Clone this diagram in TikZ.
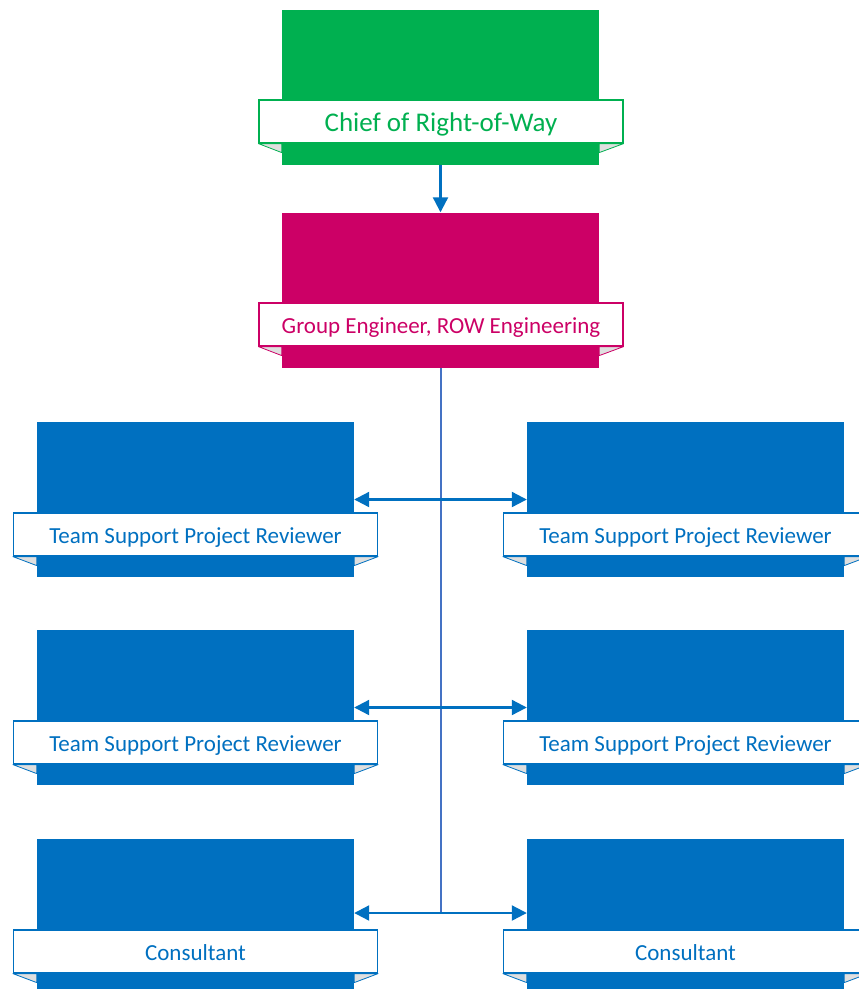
\documentclass[tikz,border=0pt]{standalone}
\usepackage{fontspec}
\setmainfont{Carlito}
\usetikzlibrary{arrows.meta,calc}
\definecolor{chiefgreen}{RGB}{0,176,80}
\definecolor{groupmagenta}{RGB}{204,0,102}
\definecolor{teamblue}{RGB}{0,112,192}
\definecolor{linkblue}{RGB}{68,114,196}

\begin{document}
\begin{tikzpicture}[x=1pt,y=-1pt,
    post/.style={fill=#1, minimum width=317pt, minimum height=155pt, inner sep=0pt},
    title/.style={draw=#1, fill=white, text=#1, line width=1.2pt,
        minimum width=364pt, minimum height=43pt, inner sep=0pt,
        text height=20pt, text depth=3pt, font=\fontsize{23}{26}\selectfont},
    fold/.style={draw=#1, fill=gray!25, line width=0.8pt, line join=round},
    link/.style={draw=teamblue, line width=2.2pt, -{Triangle[length=15pt,width=15pt]}}]
    \useasboundingbox (0,0) rectangle (859,989);
    \clip (0,0) rectangle (859,989);

    % Chief
    \node[post=chiefgreen] (chief) at (440.5,87) {};
    \node[title=chiefgreen, font=\fontsize{27}{30}\selectfont, text height=24pt, text depth=4pt] (chieft) at (441,121.5) {Chief of Right-of-Way};
    \fill[fold=chiefgreen] (chieft.south west) -- ($(chief.west |- chieft.south)+(0,9)$) -- (chief.west |- chieft.south) -- cycle;
    \fill[fold=chiefgreen] (chieft.south east) -- ($(chief.east |- chieft.south)+(0,9)$) -- (chief.east |- chieft.south) -- cycle;

    % Group engineer
    \node[post=groupmagenta] (group) at (440.5,290) {};
    \node[title=groupmagenta] (groupt) at (441,324.5) {Group Engineer, ROW Engineering};
    \fill[fold=groupmagenta] (groupt.south west) -- ($(group.west |- groupt.south)+(0,9)$) -- (group.west |- groupt.south) -- cycle;
    \fill[fold=groupmagenta] (groupt.south east) -- ($(group.east |- groupt.south)+(0,9)$) -- (group.east |- groupt.south) -- cycle;

    \draw[link] (chief.south) -- (group.north);

    % Teams
    \node[post=teamblue] (tl1) at (195.5,499.5) {};
    \node[post=teamblue] (tr1) at (685.5,499.5) {};
    \node[post=teamblue] (tl2) at (195.5,707.5) {};
    \node[post=teamblue] (tr2) at (685.5,707.5) {};
    \node[post=teamblue] (tl3) at (195.5,916.5) {};
    \node[post=teamblue] (tr3) at (685.5,916.5) {};

    \node[title=teamblue] (tl1t) at (195.5,534.5) {Team Support Project Reviewer};
    \node[title=teamblue] (tr1t) at (685.5,534.5) {Team Support Project Reviewer};
    \node[title=teamblue] (tl2t) at (195.5,742.5) {Team Support Project Reviewer};
    \node[title=teamblue] (tr2t) at (685.5,742.5) {Team Support Project Reviewer};
    \node[title=teamblue] (tl3t) at (195.5,951.5) {Consultant};
    \node[title=teamblue] (tr3t) at (685.5,951.5) {Consultant};

    \foreach \b in {tl1,tr1,tl2,tr2,tl3,tr3} {
        \fill[fold=teamblue] (\b t.south west) -- ($(\b.west |- \b t.south)+(0,9)$) -- (\b.west |- \b t.south) -- cycle;
        \fill[fold=teamblue] (\b t.south east) -- ($(\b.east |- \b t.south)+(0,9)$) -- (\b.east |- \b t.south) -- cycle;
    }

    % Links
    \coordinate (l1) at (tl1.east);
    \coordinate (r1) at (tr1.west);
    \coordinate (l2) at (tl2.east);
    \coordinate (r2) at (tr2.west);
    \coordinate (l3) at ($(tl3.east)+(0,-3.5)$);
    \coordinate (r3) at ($(tr3.west)+(0,-3.5)$);
    \coordinate (spine) at (group.south |- l3);
    \draw[linkblue, line width=2pt] (group.south) -- (spine);
    \foreach \r in {1,2,3} {
        \draw[link] (group.south |- l\r) -- (l\r);
        \draw[link] (group.south |- r\r) -- (r\r);
    }
\end{tikzpicture}
\end{document}
